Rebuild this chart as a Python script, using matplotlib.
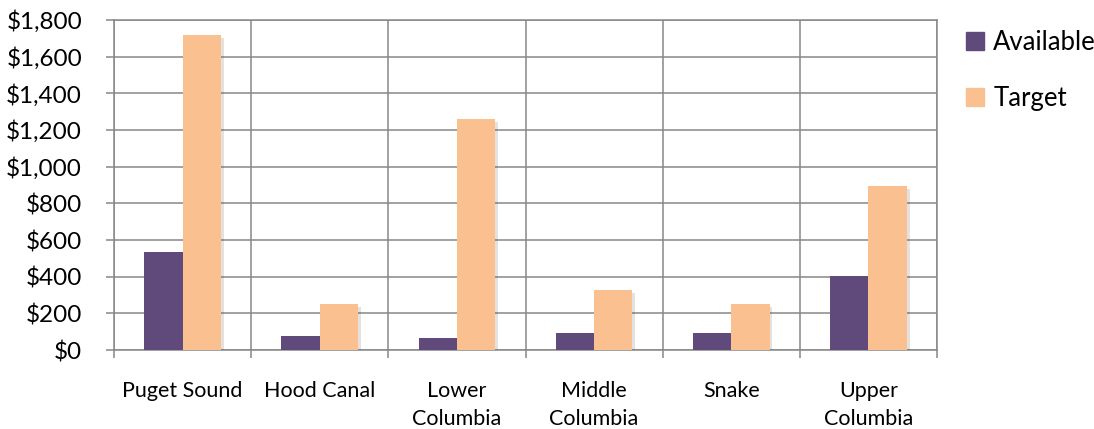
import numpy as np
import matplotlib
matplotlib.use('Agg')
import matplotlib.pyplot as plt
from matplotlib.patches import Patch
import matplotlib.patheffects as pe

plt.rcParams['font.family'] = ['Lato', 'DejaVu Sans']

regions = ["Puget Sound", "Hood Canal", "Lower\nColumbia", "Middle\nColumbia", "Snake", "Upper\nColumbia"]
available = [536, 76, 67, 91, 91, 404]
target = [1718, 251, 1258, 327, 251, 896]
y_ticks = [0, 200, 400, 600, 800, 1000, 1200, 1400, 1600, 1800]

purple = '#604A7B'
peach = '#FAC090'
grid_c = '#888888'

fig = plt.figure(figsize=(10.94, 4.29), dpi=100)
ax = fig.add_axes([114 / 1094, 79 / 429, 823 / 1094, 330 / 429])

x = np.arange(len(regions))
w = 0.28
shadow = [pe.SimplePatchShadow(offset=(2, -2), alpha=0.15), pe.Normal()]
ax.bar(x - w / 2, available, w, color=purple, zorder=3, path_effects=shadow)
ax.bar(x + w / 2, target, w, color=peach, zorder=3, path_effects=shadow)

ax.set_xlim(-0.5, len(regions) - 0.5)
ax.set_ylim(0, 1800)
ax.set_yticks(y_ticks)
ax.set_yticklabels([f"${v:,}" for v in y_ticks], fontsize=17.5)
ax.set_xticks(x)
ax.set_xticklabels(regions, fontsize=15.5, linespacing=1.55)
ax.set_xticks(np.arange(-0.5, len(regions)), minor=True)

ax.tick_params(axis='x', which='major', length=0, pad=22)
ax.tick_params(axis='x', which='minor', length=6, width=1.1, color=grid_c, direction='out')
ax.tick_params(axis='y', length=6, width=1.1, color=grid_c, direction='out', pad=17)

ax.grid(True, axis='y', which='major', color=grid_c, linewidth=1.1, zorder=0)
ax.grid(True, axis='x', which='minor', color=grid_c, linewidth=1.1, zorder=0)
ax.set_axisbelow(True)
for s in ax.spines.values():
    s.set_color(grid_c)
    s.set_linewidth(1.1)

handles = [Patch(color=purple, label='Available'), Patch(color=peach, label='Target')]
fig.legend(handles=handles, loc='upper left', bbox_to_anchor=(0.862, 0.983),
           frameon=False, fontsize=18.5, handlelength=0.7, handleheight=0.7,
           handletextpad=0.35, labelspacing=1.2)

fig.savefig('out.png', dpi=100, facecolor='white')
